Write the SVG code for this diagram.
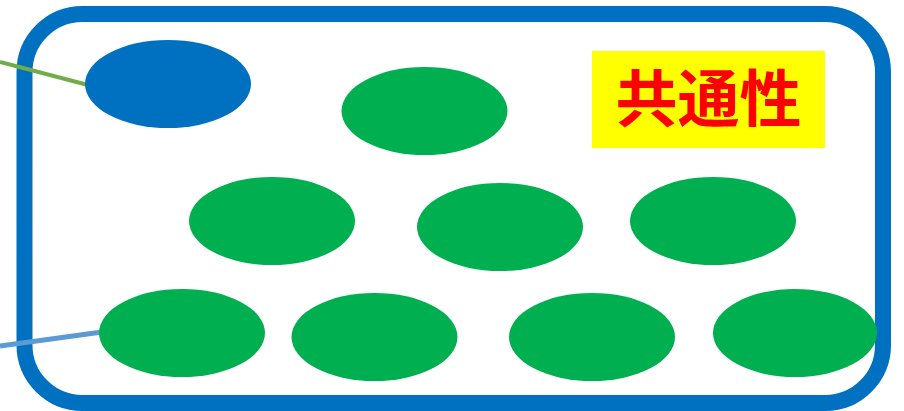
<svg xmlns="http://www.w3.org/2000/svg" width="904" height="411" viewBox="0 0 904 411">
<style>
.frame{fill:none;stroke:#0070C0;stroke-width:16}
.g{fill:#00B050}
.b{fill:#0070C0}
.lbl{font-family:"Noto Sans CJK JP","Noto Sans CJK SC",sans-serif;font-weight:bold;font-size:62px;fill:#FF0000}
</style>
<rect class="frame" x="24.5" y="14" width="858.5" height="389" rx="58" ry="58"/>
<g id="connectors">
<line x1="0" y1="62" x2="88" y2="85" stroke="#70AD47" stroke-width="4"/>
<line x1="0" y1="346" x2="102" y2="332" stroke="#5B9BD5" stroke-width="5"/>
</g>
<g id="node-blue"><ellipse class="b" cx="168" cy="84" rx="83" ry="44"/></g>
<g id="node-g1"><ellipse class="g" cx="424.5" cy="111" rx="83" ry="44"/></g>
<g id="node-g2"><ellipse class="g" cx="272" cy="221" rx="83" ry="44"/></g>
<g id="node-g3"><ellipse class="g" cx="500" cy="227" rx="83" ry="44"/></g>
<g id="node-g4"><ellipse class="g" cx="713" cy="221" rx="83" ry="44"/></g>
<g id="node-g5"><ellipse class="g" cx="182" cy="333" rx="83" ry="44"/></g>
<g id="node-g6"><ellipse class="g" cx="374.5" cy="337" rx="83" ry="44"/></g>
<g id="node-g7"><ellipse class="g" cx="592" cy="337" rx="83" ry="44"/></g>
<g id="node-g8"><ellipse class="g" cx="795" cy="333" rx="82" ry="44"/></g>
<g id="label">
<rect x="592" y="51" width="233" height="97" fill="#FFFF00"/>
<text class="lbl" x="708.5" y="95" text-anchor="middle" dominant-baseline="central">共通性</text>
</g>
</svg>
